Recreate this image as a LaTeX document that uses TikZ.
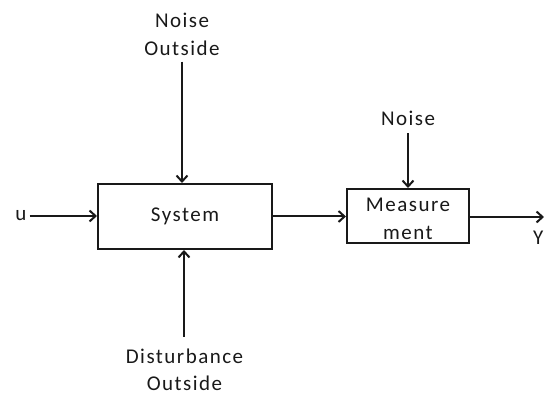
\documentclass[tikz,border=0pt]{standalone}
\usepackage{fontspec}
\setmainfont[LetterSpace=7]{Carlito}
\usetikzlibrary{arrows.meta}
\begin{document}
\begin{tikzpicture}[x=1pt,y=-1pt,
  ink/.style={draw=black!90},
  blockbox/.style={ink, line width=2pt, inner sep=0pt},
  lbl/.style={font=\fontsize{21}{27.5}\selectfont, align=center, inner sep=0pt, text=black!90},
  arr/.style={ink, line width=2pt, -{Straight Barb[length=6pt,width=11pt,line width=2pt]}}]
\useasboundingbox (0,0) rectangle (544,395);
\node[blockbox, minimum width=174pt, minimum height=65pt] (sys) at (185,216.5) {};
\node[lbl] at (sys.center) {System};
\node[blockbox, minimum width=122pt, minimum height=54pt] (meas) at (408,216) {};
\node[lbl] at (408,219) {Measure\\ment};
\node[lbl] (nout) at (182,34.5) {Noise\\Outside};
\node[lbl] (dist) at (184.5,370) {Disturbance\\Outside};
\node[lbl] (noise) at (408,118) {Noise};
\node[lbl] (u) at (21,216) {u};
\node[lbl, anchor=west] (y) at (533,238) {Y};
\coordinate (out) at (544,217);
\draw[arr] ([yshift=-6]nout.south -| 182,0) -- (182,0 |- sys.north);
\draw[arr] ([yshift=12]dist.north -| 184,0) -- (184,0 |- sys.south);
\draw[arr] ([yshift=-8]noise.south) -- (noise.south |- meas.north);
\draw[arr] ([xshift=3]u.east) -- (u.east -| sys.west);
\draw[arr] (sys.east) -- (sys.east -| meas.west);
\draw[arr] (meas.east |- out) -- (out);
\end{tikzpicture}
\end{document}
